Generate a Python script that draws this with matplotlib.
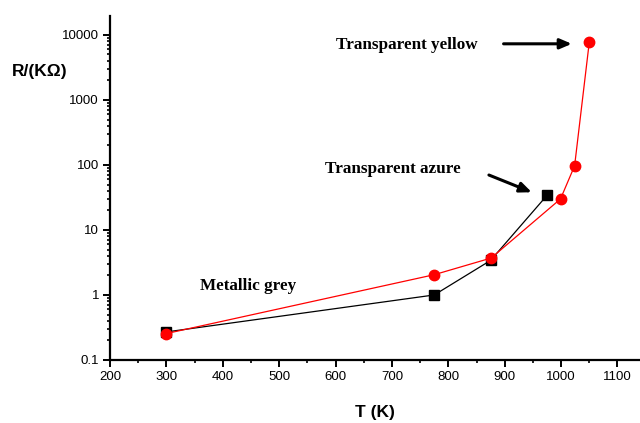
import matplotlib
matplotlib.use('Agg')
import matplotlib.pyplot as plt
from matplotlib.ticker import LogLocator, FixedLocator, NullFormatter

# Data
t_black = [300, 775, 875, 975]
r_black = [0.27, 1.0, 3.4, 34]

t_red = [300, 775, 876, 999, 1024, 1050]
r_red = [0.255, 2.05, 3.7, 30, 97, 7700]

x_ticks = [200, 300, 400, 500, 600, 700, 800, 900, 1000, 1100]
y_ticks = [0.1, 1, 10, 100, 1000, 10000]
y_labels = ['0.1', '1', '10', '100', '1000', '10000']

serif = ['Liberation Serif', 'DejaVu Serif']
sans = ['Liberation Sans', 'DejaVu Sans']

fig = plt.figure(figsize=(6.4, 4.23), dpi=100)
ax = fig.add_axes([0.172, 0.149, 0.828, 0.813])

ax.plot(t_black, r_black, color='black', lw=0.9, marker='s', ms=6.5,
        markeredgecolor='black', zorder=3)
ax.plot(t_red, r_red, color='red', lw=0.9, marker='o', ms=7.5,
        markeredgecolor='red', zorder=4)

ax.set_yscale('log')
ax.set_xlim(200, 1140)
ax.set_ylim(0.1, 19500)

ax.xaxis.set_major_locator(FixedLocator(x_ticks))
ax.xaxis.set_minor_locator(FixedLocator([250 + 100 * i for i in range(10)]))
ax.set_xticklabels([str(v) for v in x_ticks], fontfamily=sans, fontsize=9.5)
ax.yaxis.set_major_locator(FixedLocator(y_ticks))
ax.set_yticklabels(y_labels, fontfamily=sans, fontsize=9.5)
ax.yaxis.set_minor_locator(LogLocator(base=10, subs=range(2, 10), numticks=20))
ax.yaxis.set_minor_formatter(NullFormatter())

for s in ['top', 'right']:
    ax.spines[s].set_visible(False)
for s in ['left', 'bottom']:
    ax.spines[s].set_linewidth(1.6)

ax.tick_params(which='major', direction='out', length=5, width=1.4, pad=3)
ax.tick_params(which='minor', direction='out', length=2.5, width=1.2)

ax.set_xlabel('T (K)', fontfamily=sans, fontweight='bold', fontsize=12.5, labelpad=16)
fig.text(0.019, 0.83, 'R/(K\u03a9)', fontfamily=sans, fontweight='bold',
         fontsize=12.5, va='center', ha='left')

ax.text(600, 7000, 'Transparent yellow', fontfamily=serif, fontweight='bold',
        fontsize=12.3, va='center', ha='left')
ax.text(582, 87, 'Transparent azure', fontfamily=serif, fontweight='bold',
        fontsize=12.3, va='center', ha='left')
ax.text(359, 1.38, 'Metallic grey', fontfamily=serif,
        fontweight='bold', fontsize=12.3, va='center', ha='left')

arrow = dict(arrowstyle='-|>,head_length=0.7,head_width=0.3',
             color='black', lw=2.2, shrinkA=0, shrinkB=0)
ax.annotate('', xy=(1019, 7300), xytext=(898, 7300), arrowprops=arrow)
ax.annotate('', xy=(948, 38), xytext=(872, 70), arrowprops=arrow)

fig.savefig('out.png', dpi=100)
plt.close(fig)
